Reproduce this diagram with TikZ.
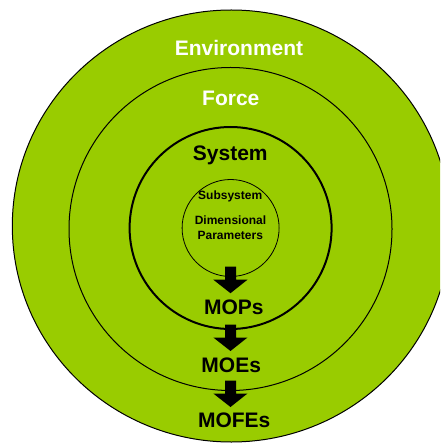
\documentclass[tikz,border=0pt]{standalone}
\usepackage{fontspec}
\setmainfont{Liberation Sans}
\definecolor{leaf}{RGB}{153,204,0}
\begin{document}
\begin{tikzpicture}[x=1pt,y=-1pt,
  ring/.style={circle,draw=black,fill=leaf,inner sep=0pt},
  bigtext/.style={font=\fontsize{21}{25}\selectfont\bfseries,anchor=base,inner sep=0pt},
  smalltext/.style={font=\fontsize{12}{14}\selectfont\bfseries,anchor=base,inner sep=0pt},
  blockarrow/.style={fill=black}]
\clip (0,0) rectangle (440,443);
\fill[white] (0,0) rectangle (440,443);
% rings
\filldraw[fill=leaf,draw=black,line width=1pt] (231.3,226) ellipse [x radius=219pt,y radius=216pt];
\node[ring,line width=1pt,minimum size=323pt] (force) at (230.5,229) {};
\node[ring,line width=2pt,minimum size=202pt] (system) at (230.6,228) {};
\node[ring,line width=0.8pt,minimum size=97pt] (sub) at (230.6,228) {};
% block arrows
\foreach \t in {266.7,324.5,380.5}{
  \fill[blockarrow] (225,\t) -- (236,\t) -- (236,\t+13) -- (247.5,\t+13)
    -- (230.5,\t+26.5) -- (213.3,\t+13) -- (225,\t+13) -- cycle;
}
% labels
\node[bigtext,text=white] (env) at (239,56) {Environment};
\node[bigtext,text=white] (forcelbl) at (230.8,105.3) {Force};
\node[bigtext] (syslbl) at (230.3,160.3) {System};
\node[smalltext] (sublbl) at (230.2,199.3) {Subsystem};
\node[smalltext] (dim) at (230.5,224.3) {Dimensional};
\node[smalltext] (par) at (230.3,239.3) {Parameters};
\node[bigtext] (mops) at (233.8,314.3) {MOPs};
\node[bigtext] (moes) at (231.2,372.3) {MOEs};
\node[bigtext] (mofes) at (234.2,427.7) {MOFEs};
\end{tikzpicture}
\end{document}
